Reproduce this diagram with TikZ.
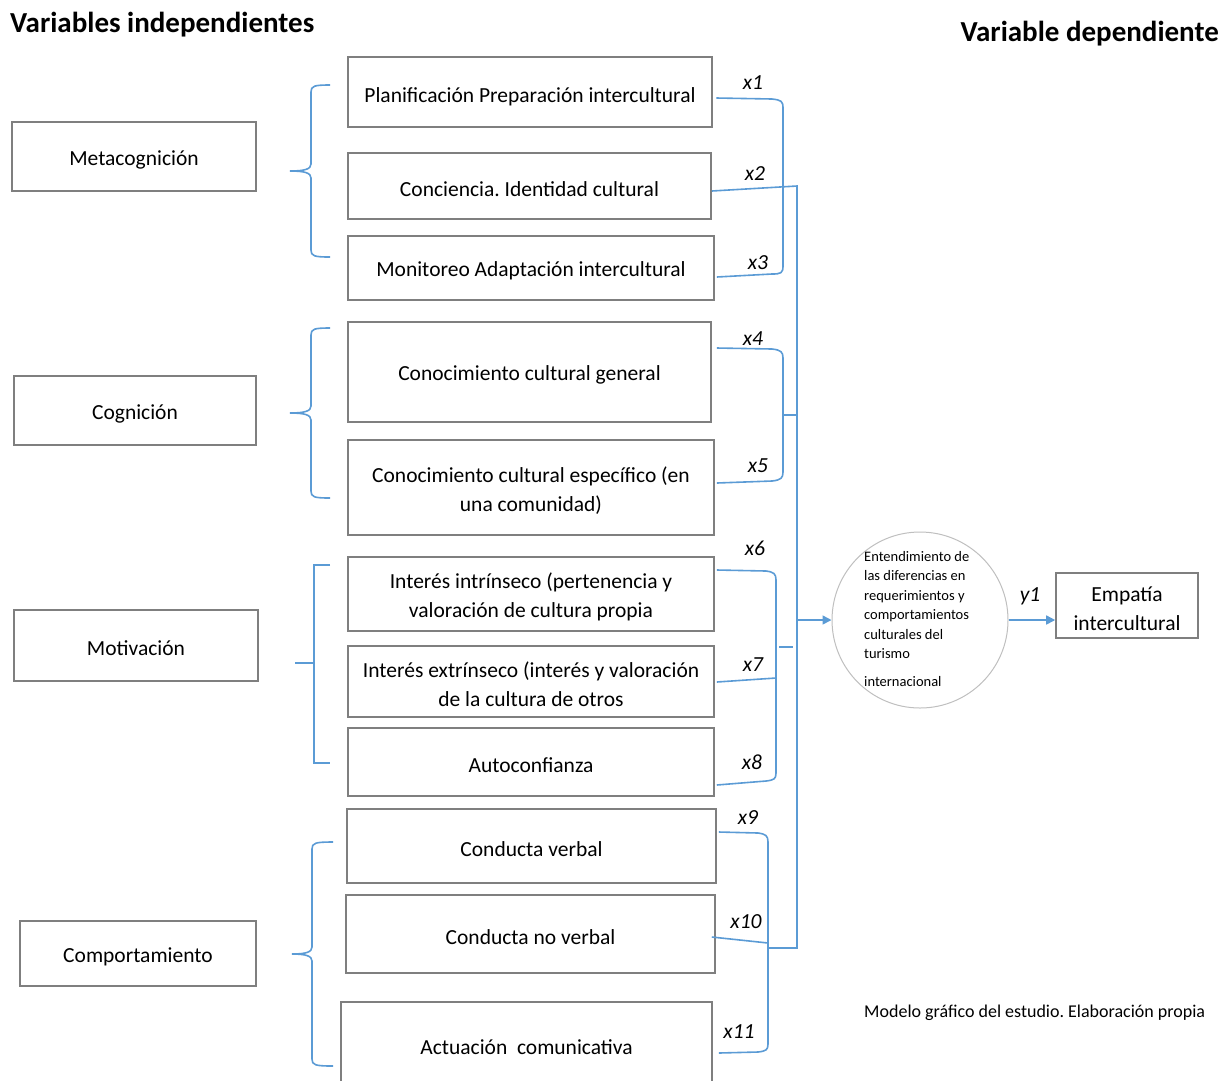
\documentclass[tikz,border=0pt]{standalone}
\usepackage{fontspec}
\setmainfont{Carlito}
\frenchspacing
\usetikzlibrary{arrows.meta,calc}
\definecolor{lblue}{HTML}{5B9BD5}
\definecolor{bgray}{HTML}{7F7F7F}
% \bx[frame opts]{name}{cx}{cy}{w}{h}{text}
\newcommand\bx[7][]{%
  \node[boxframe,#1,minimum width=#5,minimum height=#6] (#2) at (#3,#4) {};
  \node[boxtext] (#2t) at ($(#2)+(0,3)$) {#7};}
\begin{document}
\begin{tikzpicture}[x=1pt,y=-1pt,
  boxframe/.style={draw=bgray, line width=1.6pt, inner sep=0pt},
  boxtext/.style={align=center, inner sep=0pt, font=\fontsize{21.5}{29}\selectfont},
  conn/.style={draw=lblue, line width=1.6pt},
  arr/.style={conn, -{Triangle[length=9pt,width=9pt]}},
  lab/.style={font=\fontsize{21.5}{24}\selectfont\itshape, inner sep=0pt},
  ttl/.style={font=\fontsize{29}{33}\selectfont\bfseries, inner sep=0pt},
]
\useasboundingbox (0,0) rectangle (1222,1080);

% titles
\node[ttl, anchor=west] (t1) at (10,25) {Variables independientes};
\node[ttl, anchor=east] (t2) at (1219,34) {Variable dependiente};

% category boxes
\bx{meta}{134}{156.5}{244}{69}{Metacognición}
\bx{cogn}{135}{410.5}{242}{69}{Cognición}
\bx{moti}{136}{645.5}{244}{71}{Motivación}
\bx{comp}{138}{953.5}{236}{65}{Comportamiento}

% item boxes
\node[boxframe, line width=2.6pt, minimum width=364, minimum height=70] (b1) at (530,92) {};
\node[boxtext] (b1t) at ($(b1)+(0,5)$) {Planificación Preparación intercultural};
\bx{b2}{529.5}{186}{363}{66}{Conciencia. Identidad cultural}
\bx{b3}{531}{268}{366}{64}{Monitoreo Adaptación intercultural}
\bx{b4}{529.5}{372}{363}{100}{Conocimiento cultural general}
\bx{b5}{531}{487.5}{366}{95}{Conocimiento cultural específico (en\\una comunidad)}
\bx{b6}{531}{594}{366}{74}{Interés intrínseco (pertenencia y\\valoración de cultura propia}
\bx{b7}{531}{681.5}{366}{71}{Interés extrínseco (interés y valoración\\de la cultura de otros}
\bx{b8}{531}{762}{366}{68}{Autoconfianza}
\bx{b9}{531.5}{846}{369}{74}{Conducta verbal}
\bx{b10}{530.5}{934}{369}{78}{Conducta no verbal}
\bx{b11}{526.5}{1044}{371}{84}{Actuación\ \ comunicativa}

% circle and result
\node[circle, draw=black!25, line width=1pt, minimum size=176] (c) at (920,620) {};
\node[anchor=north west, align=left, inner sep=0pt, font=\fontsize{14.5}{19.5}\selectfont] (ct) at (864,551)
  {Entendimiento de\\las diferencias en\\requerimientos y\\comportamientos\\culturales del\\turismo\\[8pt]internacional};
\bx{e}{1127}{605.5}{142}{65}{Empatía\\intercultural}

% left braces
\draw[conn] (330,85) .. controls (314,85) and (311,86) .. (311,92) -- (311,164)
  .. controls (311,169) and (305,171) .. (290,171) .. controls (305,171) and (311,173) .. (311,178)
  -- (311,250) .. controls (311,256) and (314,257) .. (330,257);
\draw[conn] (330,328) .. controls (314,328) and (311,329) .. (311,335) -- (311,406)
  .. controls (311,411) and (305,413) .. (290,413) .. controls (305,413) and (311,415) .. (311,420)
  -- (311,491) .. controls (311,497) and (314,498) .. (330,498);
\draw[conn] (330,565) -- (314,565) -- (314,763) -- (330,763);
\draw[conn] (295,663) -- (314,663);
\draw[conn] (333,842) .. controls (315,842) and (312,843) .. (312,849) -- (312,947)
  .. controls (312,952) and (306,954) .. (292,954) .. controls (306,954) and (312,956) .. (312,961)
  -- (312,1059) .. controls (312,1065) and (315,1066) .. (333,1066);

% right brackets
\draw[conn] ($(b1.east |- 0,98)+(3,0)$) -- (772,99) .. controls (781,100) and (783,101) .. (783,108)
  -- (783,266) .. controls (783,273) and (781,274) .. (772,274) -- ($(b3.east |- 0,277)+(2,0)$);
\draw[conn] (b2.east |- 0,191) -- (797,186) -- (797,948) -- (769,948);
\draw[conn] ($(b4.east |- 0,348)+(5,0)$) -- (772,349) .. controls (781,350) and (783,352) .. (783,358)
  -- (783,472) .. controls (783,478) and (781,480) .. (772,481) -- ($(b5.east |- 0,483)+(2,0)$);
\draw[conn] (783,415) -- (797,415);
\draw[conn] ($(b6.east |- 0,570)+(2,0)$) -- (766,571) .. controls (774,572) and (776,574) .. (776,580)
  -- (776,773) .. controls (776,779) and (774,780) .. (766,781) -- ($(b8.east |- 0,785)+(2,0)$);
\draw[conn] ($(b7.east |- 0,682)+(2,0)$) -- (776,678);
\draw[conn] (779,647) -- (793,647);
\draw[conn] ($(b9.east |- 0,832)+(2,0)$) -- (758,833) .. controls (766,834) and (768,836) .. (768,842)
  -- (768,1044) .. controls (768,1050) and (766,1051) .. (758,1052) -- ($(b11.east |- 0,1053)+(6,0)$);
\draw[conn] ($(b10.east |- 0,937)+(-4,0)$) -- (768,943);
\draw[arr] (797,620) -- (c.west);
\draw[arr] (c.east) -- (c.east -| e.west);

% labels
\node[lab] (l1) at (753,83) {x1};
\node[lab] (l2) at (755,174) {x2};
\node[lab] (l3) at (758,263) {x3};
\node[lab] (l4) at (753,339) {x4};
\node[lab] (l5) at (758,466) {x5};
\node[lab] (l6) at (755,548) {x6};
\node[lab] (l7) at (753,665) {x7};
\node[lab] (l8) at (752,762) {x8};
\node[lab] (l9) at (748,818) {x9};
\node[lab] (l10) at (746,922) {x10};
\node[lab] (l11) at (739,1032) {x11};
\node[lab] (ly) at (1030,596) {y1};

% note
\node[anchor=west, inner sep=0pt, font=\fontsize{18}{21}\selectfont] (note) at (864,1013) {Modelo gráfico del estudio. Elaboración propia};
\end{tikzpicture}
\end{document}
